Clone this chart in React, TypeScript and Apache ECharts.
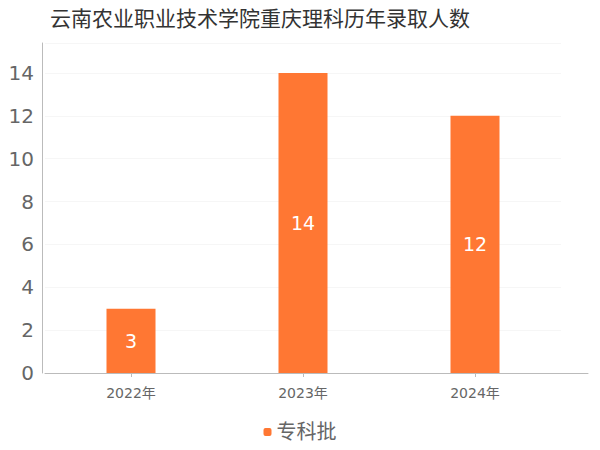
import { useEffect, useRef } from "react";
import * as echarts from "echarts";

const TITLE = "云南农业职业技术学院重庆理科历年录取人数";
const YEARS = ["2022年", "2023年", "2024年"];
const SERIES_NAME = "专科批";
const COUNTS = [3, 14, 12];

const FONT = "'DejaVu Sans', 'Noto Sans CJK SC', sans-serif";

export default function App() {
  const chartRef = useRef<HTMLDivElement>(null);

  useEffect(() => {
    if (!chartRef.current) return;
    const chart = echarts.init(chartRef.current, null, { renderer: "svg" });

    chart.setOption({
      animation: false,
      textStyle: { fontFamily: FONT },
      title: {
        text: TITLE,
        left: 45,
        top: 3,
        textStyle: { fontSize: 21, fontWeight: "normal", color: "#333", fontFamily: FONT },
      },
      legend: {
        data: [SERIES_NAME],
        left: "center",
        top: 417,
        itemWidth: 8,
        itemHeight: 8,
        itemGap: 10,
        textStyle: { fontSize: 20, color: "#666", fontFamily: FONT },
      },
      grid: [
        { left: 45, right: 39, top: 43, bottom: 77 },
        { left: 45, right: 12, top: 43, bottom: 77 },
      ],
      xAxis: [
        {
          type: "category",
          gridIndex: 0,
          data: YEARS,
          offset: 5,
          axisLine: { show: false },
          axisTick: { show: true, alignWithLabel: true, length: 4, lineStyle: { color: "#bbb" } },
          axisLabel: { color: "#666", fontSize: 14, margin: 8, fontFamily: FONT },
        },
        {
          type: "value",
          gridIndex: 1,
          offset: 5,
          axisLine: { show: true, lineStyle: { color: "#bbb" } },
          axisTick: { show: false },
          axisLabel: { show: false },
          splitLine: { show: false },
        },
      ],
      yAxis: [
        {
          type: "value",
          gridIndex: 0,
          min: 0,
          max: 15.4,
          interval: 2,
          offset: 3,
          axisLine: { show: true, lineStyle: { color: "#bbb" } },
          axisTick: { show: false },
          axisLabel: {
            color: "#666",
            fontSize: 20,
            margin: 8,
            showMaxLabel: false,
            fontFamily: FONT,
          },
          splitLine: { show: true, lineStyle: { color: "#f6f6f6" } },
        },
        {
          type: "value",
          gridIndex: 1,
          show: false,
        },
      ],
      series: [
        {
          name: SERIES_NAME,
          type: "bar",
          xAxisIndex: 0,
          yAxisIndex: 0,
          data: COUNTS,
          barWidth: 49,
          itemStyle: { color: "#ff7733" },
          label: {
            show: true,
            position: "inside",
            color: "#fff",
            fontSize: 19,
            fontFamily: FONT,
          },
        },
      ],
    });

    return () => chart.dispose();
  }, []);

  return <div ref={chartRef} style={{ width: 600, height: 450, margin: -8 }} />;
}
